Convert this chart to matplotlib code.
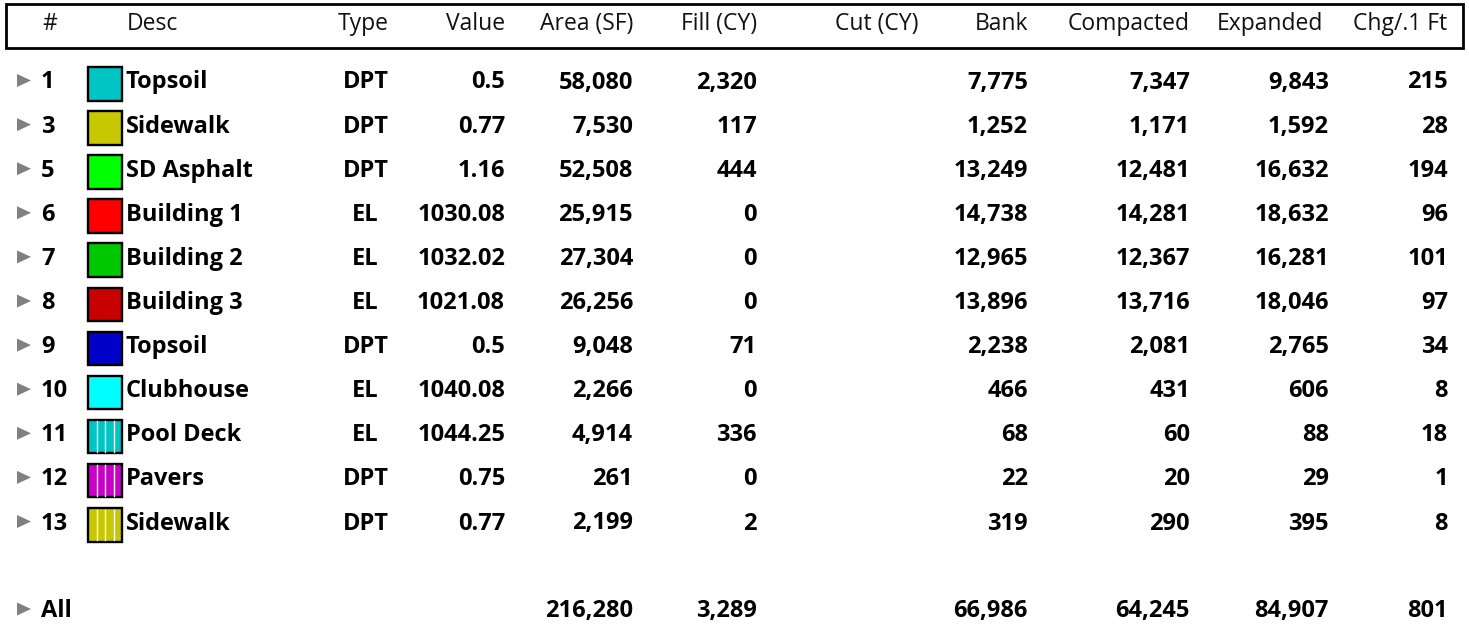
import matplotlib
matplotlib.use("Agg")
import matplotlib.pyplot as plt
from matplotlib.patches import Rectangle, Polygon

plt.rcParams['font.family'] = ['Open Sans', 'DejaVu Sans']

headers = ["#", "Desc", "Type", "Value", "Area (SF)", "Fill (CY)", "Cut (CY)",
           "Bank", "Compacted", "Expanded", "Chg/.1 Ft"]
ids = ["1", "3", "5", "6", "7", "8", "9", "10", "11", "12", "13"]
descs = ["Topsoil", "Sidewalk", "SD Asphalt", "Building 1", "Building 2", "Building 3",
         "Topsoil", "Clubhouse", "Pool Deck", "Pavers", "Sidewalk"]
swatch_colors = ["#00C5C5", "#C8C800", "#00FF00", "#FF0000", "#00C800", "#C80000",
                 "#0000C8", "#00FFFF", "#00C5C5", "#C800C8", "#C8C800"]
swatch_hatched = [False, False, False, False, False, False, False, False, True, True, True]
types = ["DPT", "DPT", "DPT", "EL", "EL", "EL", "DPT", "EL", "EL", "DPT", "DPT"]
values = ["0.5", "0.77", "1.16", "1030.08", "1032.02", "1021.08", "0.5", "1040.08",
          "1044.25", "0.75", "0.77"]
area_sf = [58080, 7530, 52508, 25915, 27304, 26256, 9048, 2266, 4914, 261, 2199]
fill_cy = [2320, 117, 444, 0, 0, 0, 71, 0, 336, 0, 2]
cut_cy = [None] * 11
bank = [7775, 1252, 13249, 14738, 12965, 13896, 2238, 466, 68, 22, 319]
compacted = [7347, 1171, 12481, 14281, 12367, 13716, 2081, 431, 60, 20, 290]
expanded = [9843, 1592, 16632, 18632, 16281, 18046, 2765, 606, 88, 29, 395]
chg = [215, 28, 194, 96, 101, 97, 34, 8, 18, 1, 8]
total_label = "All"
totals = {"Area (SF)": 216280, "Fill (CY)": 3289, "Bank": 66986,
          "Compacted": 64245, "Expanded": 84907, "Chg/.1 Ft": 801}

W, H = 1469, 625
fig = plt.figure(figsize=(W / 100, H / 100), dpi=100)
ax = fig.add_axes([0, 0, 1, 1])
ax.set_xlim(0, W)
ax.set_ylim(H, 0)
ax.axis("off")

FS = 17
HFS = 16.5

# header box
ax.add_patch(Rectangle((6.5, 4), 1456.5, 43.5, fill=False, lw=2, ec="black"))
hy = 30.5
head_pos = {"#": (50, "center"), "Desc": (127, "left"), "Type": (389, "right"),
            "Value": (505, "right"), "Area (SF)": (633, "right"), "Fill (CY)": (757, "right"),
            "Cut (CY)": (919, "right"), "Bank": (1028, "right"), "Compacted": (1190, "right"),
            "Expanded": (1323, "right"), "Chg/.1 Ft": (1447, "right")}
for h in headers:
    x, ha = head_pos[h]
    ax.text(x, hy, h, ha=ha, va="baseline", fontsize=HFS, color="#111111")

num_cols = [("Area (SF)", area_sf, 633), ("Fill (CY)", fill_cy, 757),
            ("Cut (CY)", cut_cy, 919), ("Bank", bank, 1028),
            ("Compacted", compacted, 1190), ("Expanded", expanded, 1329),
            ("Chg/.1 Ft", chg, 1448)]

def tri(yb):
    yc = yb - 8
    ax.add_patch(Polygon([[17, yc - 6.5], [17, yc + 6.5], [31, yc]], closed=True,
                         fc="#808080", ec="none"))

def txt(x, y, s, ha):
    ax.text(x, y, s, ha=ha, va="baseline", fontsize=FS, fontweight="bold", color="black")

y0, dy = 88.5, 44.1
for i in range(len(ids)):
    y = y0 + i * dy
    tri(y)
    txt(41, y, ids[i], "left")
    sx, sy, s = 88.5, y - 21.5, 33.5
    ax.add_patch(Rectangle((sx, sy), s, s, fc=swatch_colors[i], ec="black", lw=1.7))
    if swatch_hatched[i]:
        for k in range(1, 4):
            xx = sx + k * s / 4
            ax.plot([xx, xx], [sy + 1.5, sy + s - 1.5], color="white", lw=1)
    txt(126, y, descs[i], "left")
    txt(365.5, y, types[i], "center")
    txt(505, y, values[i], "right")
    for name, arr, xr in num_cols:
        v = arr[i]
        if v is None:
            continue
        txt(xr, y, f"{v:,}", "right")

ya = 617
tri(ya)
txt(41, ya, total_label, "left")
for name, arr, xr in num_cols:
    if name in totals:
        txt(xr, ya, f"{totals[name]:,}", "right")

fig.savefig("out.png", dpi=100, facecolor="white")
